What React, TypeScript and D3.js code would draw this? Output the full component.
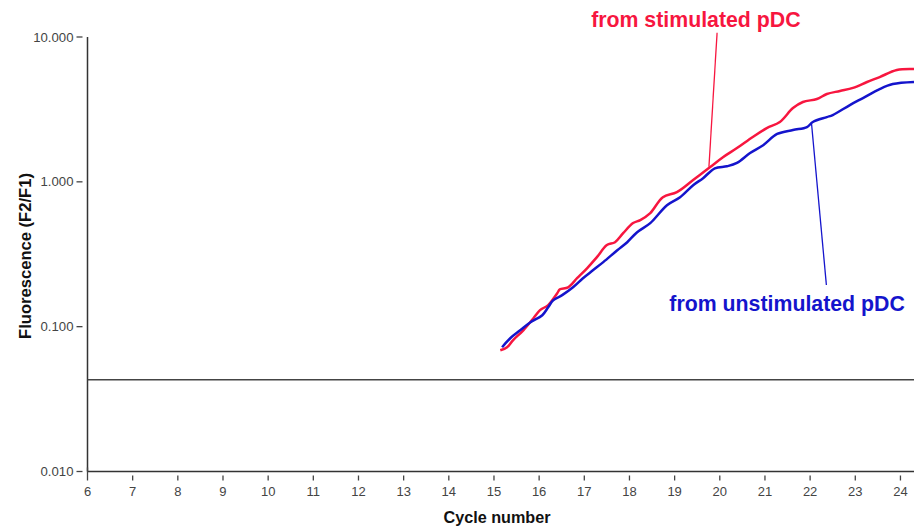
import React from 'react';
import * as d3 from 'd3';

// cycle number / fluorescence ratio
const stimCycles = [15.14, 15.29, 15.42, 15.65, 15.87, 16.02, 16.2, 16.4, 16.46, 16.64, 16.84, 17.06, 17.28, 17.5, 17.68, 17.86, 18.08, 18.24, 18.46, 18.74, 19.05, 19.41, 19.78, 20.07, 20.38, 20.73, 21.04, 21.33, 21.62, 21.84, 22.15, 22.37, 22.66, 22.95, 23.26, 23.54, 23.92, 24.3];
const stimValues = [0.0687, 0.0721, 0.0805, 0.0944, 0.114, 0.13, 0.141, 0.17, 0.181, 0.187, 0.216, 0.253, 0.302, 0.366, 0.383, 0.442, 0.519, 0.544, 0.608, 0.783, 0.849, 1.03, 1.26, 1.48, 1.71, 2.04, 2.35, 2.59, 3.23, 3.56, 3.73, 4.04, 4.24, 4.45, 4.89, 5.29, 5.92, 6.01];

const unstimCycles = [15.18, 15.36, 15.58, 15.8, 16.07, 16.2, 16.31, 16.51, 16.75, 16.97, 17.19, 17.42, 17.73, 17.95, 18.17, 18.46, 18.83, 19.12, 19.41, 19.63, 19.89, 20.16, 20.38, 20.67, 20.96, 21.27, 21.62, 21.93, 22.06, 22.37, 22.5, 22.88, 23.17, 23.54, 23.83, 24.3];
const unstimValues = [0.0721, 0.0832, 0.0944, 0.107, 0.12, 0.136, 0.152, 0.165, 0.187, 0.216, 0.245, 0.279, 0.337, 0.383, 0.449, 0.519, 0.69, 0.783, 0.948, 1.06, 1.24, 1.28, 1.35, 1.58, 1.79, 2.14, 2.28, 2.39, 2.59, 2.8, 2.89, 3.39, 3.79, 4.37, 4.73, 4.89];

const xTicks = [6, 7, 8, 9, 10, 11, 12, 13, 14, 15, 16, 17, 18, 19, 20, 21, 22, 23, 24];
const yTicks = [0.01, 0.1, 1, 10];
const yTickLabels = ['0.010', '0.100', '1.000', '10.000'];
const threshold = 0.043;

const RED = '#f7163f';
const BLUE = '#1414cc';

export default function App() {
  const width = 914;
  const height = 531;
  const x = d3.scaleLinear().domain([6, 24.3]).range([87.5, 914]);
  const y = d3.scaleLog().domain([0.01, 10]).range([471.5, 37]);

  const line = d3.line<[number, number]>()
    .x(d => x(d[0]))
    .y(d => y(d[1]))
    .curve(d3.curveCatmullRom);

  const stim = stimCycles.map((c, i) => [c, stimValues[i]] as [number, number]);
  const unstim = unstimCycles.map((c, i) => [c, unstimValues[i]] as [number, number]);

  const notes = [
    { label: 'from stimulated pDC', color: RED, tx: 19.47, ty: 11.7, from: [19.94, 10.7], to: [19.76, 1.27] },
    { label: 'from unstimulated pDC', color: BLUE, tx: 21.49, ty: 0.128, from: [22.03, 2.55], to: [22.36, 0.194] },
  ];

  const font = 'Arial, "Liberation Sans", Helvetica, sans-serif';

  return (
    <svg width={width} height={height} style={{ position: 'absolute', left: 0, top: 0, background: '#fff' }} fontFamily={font}>
      {/* y axis */}
      <line x1={x(6)} x2={x(6)} y1={y(10)} y2={y(0.01)} stroke="#333" strokeWidth={1.5} />
      {yTicks.map((t, i) => (
        <g key={t}>
          <line x1={x(6) - 11} x2={x(6) - 5} y1={y(t)} y2={y(t)} stroke="#444" strokeWidth={1.3} />
          <text x={x(6) - 14} y={y(t)} dy="0.35em" textAnchor="end" fontSize={13.2} fill="#444">{yTickLabels[i]}</text>
        </g>
      ))}
      {/* x axis */}
      <line x1={x(6)} x2={width} y1={y(0.01)} y2={y(0.01)} stroke="#333" strokeWidth={1.5} />
      {xTicks.map(t => (
        <g key={t}>
          <line x1={x(t)} x2={x(t)} y1={y(0.01) + (t === 6 ? -4 : 4)} y2={y(0.01) + 9} stroke="#444" strokeWidth={1.3} />
          <text x={x(t)} y={496} textAnchor="middle" fontSize={13} fill="#444">{t}</text>
        </g>
      ))}
      <text x={497} y={523} textAnchor="middle" fontSize={16.2} fontWeight="bold" fill="#111">Cycle number</text>
      <text transform={`translate(31, 256) rotate(-90)`} textAnchor="middle" fontSize={16.6} fontWeight="bold" fill="#111">Fluorescence (F2/F1)</text>

      {/* threshold */}
      <line x1={x(6)} x2={width} y1={y(threshold)} y2={y(threshold)} stroke="#444" strokeWidth={1.5} />

      {/* curves */}
      <path d={line(stim) ?? ''} fill="none" stroke={RED} strokeWidth={2.5} />
      <path d={line(unstim) ?? ''} fill="none" stroke={BLUE} strokeWidth={2.5} />

      {/* annotations */}
      {notes.map(n => (
        <g key={n.label}>
          <line x1={x(n.from[0])} y1={y(n.from[1])} x2={x(n.to[0])} y2={y(n.to[1])} stroke={n.color} strokeWidth={1.3} />
          <text x={x(n.tx)} y={y(n.ty)} textAnchor="middle" fontSize={21.3} fontWeight="bold" fill={n.color}>{n.label}</text>
        </g>
      ))}
    </svg>
  );
}
